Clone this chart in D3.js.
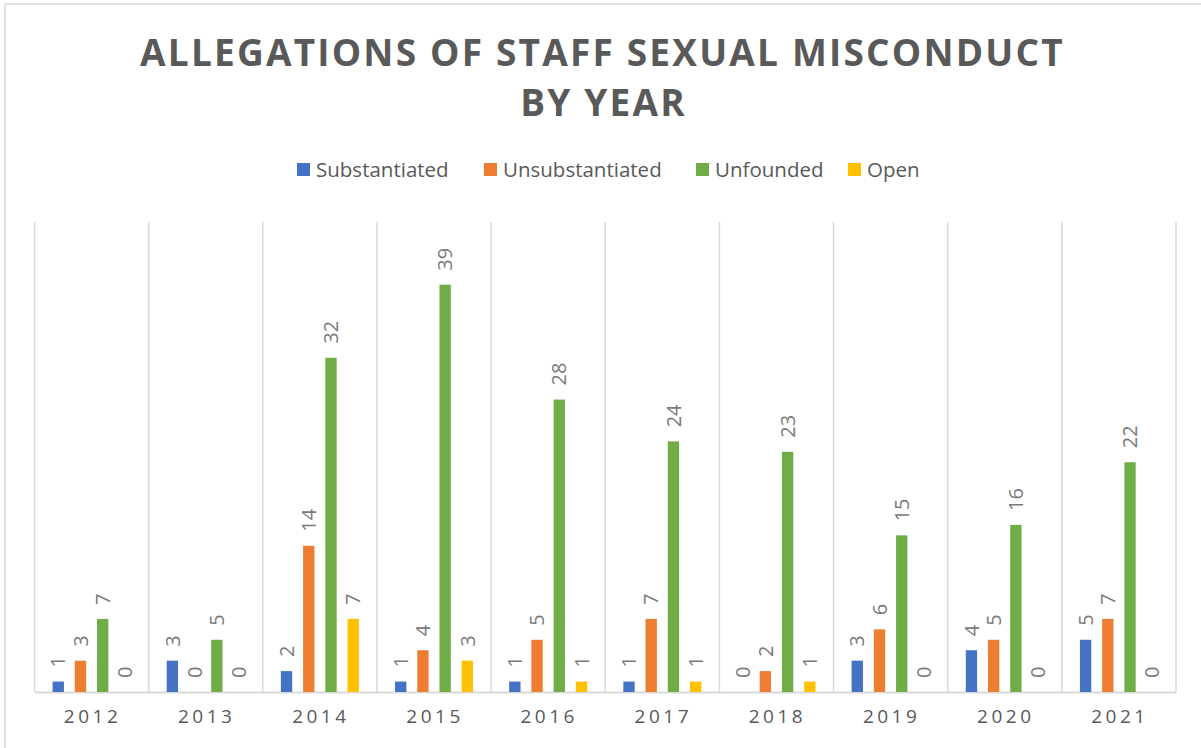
<!DOCTYPE html>
<html>
<head>
<meta charset="utf-8">
<script src="https://cdn.jsdelivr.net/npm/d3@7"></script>
<style>
  body { margin: 0; background: #fff; }
  svg { display: block; font-family: "Open Sans", sans-serif; }
</style>
</head>
<body>
<svg id="chart"></svg>
<script>
// Data
const years = ["2012", "2013", "2014", "2015", "2016", "2017", "2018", "2019", "2020", "2021"];
const seriesNames = ["Substantiated", "Unsubstantiated", "Unfounded", "Open"];
const substantiated = [1, 3, 2, 1, 1, 1, 0, 3, 4, 5];
const unsubstantiated = [3, 0, 14, 4, 5, 7, 2, 6, 5, 7];
const unfounded = [7, 5, 32, 39, 28, 24, 23, 15, 16, 22];
const open = [0, 0, 7, 3, 1, 1, 1, 0, 0, 0];
const colors = ["#4472C4", "#ED7D31", "#70AD47", "#FFC000"];

const seriesValues = [substantiated, unsubstantiated, unfounded, open];
const data = years.map((y, i) => ({
  year: y,
  values: seriesNames.map((s, j) => ({ key: s, value: seriesValues[j][i] }))
}));

const W = 1201, H = 748;
const plot = { left: 34.5, right: 1176, top: 222, bottom: 692 };

const svg = d3.select("#chart")
    .attr("width", W)
    .attr("height", H);

// chart border
svg.append("rect")
    .attr("x", 5).attr("y", 4)
    .attr("width", W + 10).attr("height", H + 10)
    .attr("fill", "none")
    .attr("stroke", "#d9d9d9")
    .attr("stroke-width", 1.5);

// Title
const title = svg.append("text")
    .attr("text-anchor", "middle")
    .attr("fill", "#595959")
    .attr("font-size", 37)
    .attr("font-weight", "bold")
    .attr("letter-spacing", 2.2);
title.append("tspan").attr("x", W / 2 + 2).attr("y", 66).text("ALLEGATIONS OF STAFF SEXUAL MISCONDUCT");
title.append("tspan").attr("x", W / 2 + 3).attr("y", 116).text("BY YEAR");

// Scales
const x0 = d3.scaleBand()
    .domain(years)
    .range([plot.left, plot.right])
    .padding(0);

const x1 = d3.scaleBand()
    .domain(seriesNames)
    .range([0, 78])
    .paddingInner(0.49)
    .paddingOuter(0);

const y = d3.scaleLinear()
    .domain([0, 45])
    .range([plot.bottom, plot.top]);

// vertical category dividers
svg.append("g")
  .selectAll("line")
  .data(years.concat(["end"]))
  .enter().append("line")
    .attr("x1", (d, i) => plot.left + i * x0.bandwidth())
    .attr("x2", (d, i) => plot.left + i * x0.bandwidth())
    .attr("y1", plot.top)
    .attr("y2", plot.bottom)
    .attr("stroke", "#d9d9d9")
    .attr("stroke-width", 1.5);

// x axis
const xAxis = svg.append("g")
    .attr("transform", `translate(0,${plot.bottom})`)
    .call(d3.axisBottom(x0).tickSize(0).tickPadding(18));
xAxis.select(".domain").attr("stroke", "#d9d9d9").attr("stroke-width", 2);
xAxis.selectAll("text")
    .attr("font-family", "Open Sans, sans-serif")
    .attr("font-size", 19)
    .attr("fill", "#595959")
    .attr("letter-spacing", 3.5)
    .attr("dx", 1);

// bars
const groupOffset = (x0.bandwidth() - 78) / 2;
const groups = svg.append("g")
  .selectAll("g")
  .data(data)
  .enter().append("g")
    .attr("transform", d => `translate(${x0(d.year) + groupOffset},0)`);

groups.selectAll("rect")
  .data(d => d.values)
  .enter().append("rect")
    .attr("x", d => x1(d.key))
    .attr("y", d => y(d.value))
    .attr("width", x1.bandwidth())
    .attr("height", d => plot.bottom - y(d.value))
    .attr("fill", (d, i) => colors[i]);

// value labels
groups.selectAll("text")
  .data(d => d.values)
  .enter().append("text")
    .attr("transform", d => `translate(${x1(d.key) + x1.bandwidth() / 2},${y(d.value) - 14}) rotate(-90)`)
    .attr("dy", "0.36em")
    .attr("text-anchor", "start")
    .attr("font-size", 20)
    .attr("fill", "#7a7a7a")
    .text(d => d.value);

// legend
const legendX = [297, 484, 696, 848];
const legend = svg.append("g")
  .selectAll("g")
  .data(seriesNames)
  .enter().append("g")
    .attr("transform", (d, i) => `translate(${legendX[i]},163)`);
legend.append("rect")
    .attr("width", 13).attr("height", 13)
    .attr("fill", (d, i) => colors[i]);
legend.append("text")
    .attr("x", 19).attr("y", 14)
    .attr("font-size", 20.5)
    .attr("fill", "#595959")
    .text(d => d);
</script>
</body>
</html>
